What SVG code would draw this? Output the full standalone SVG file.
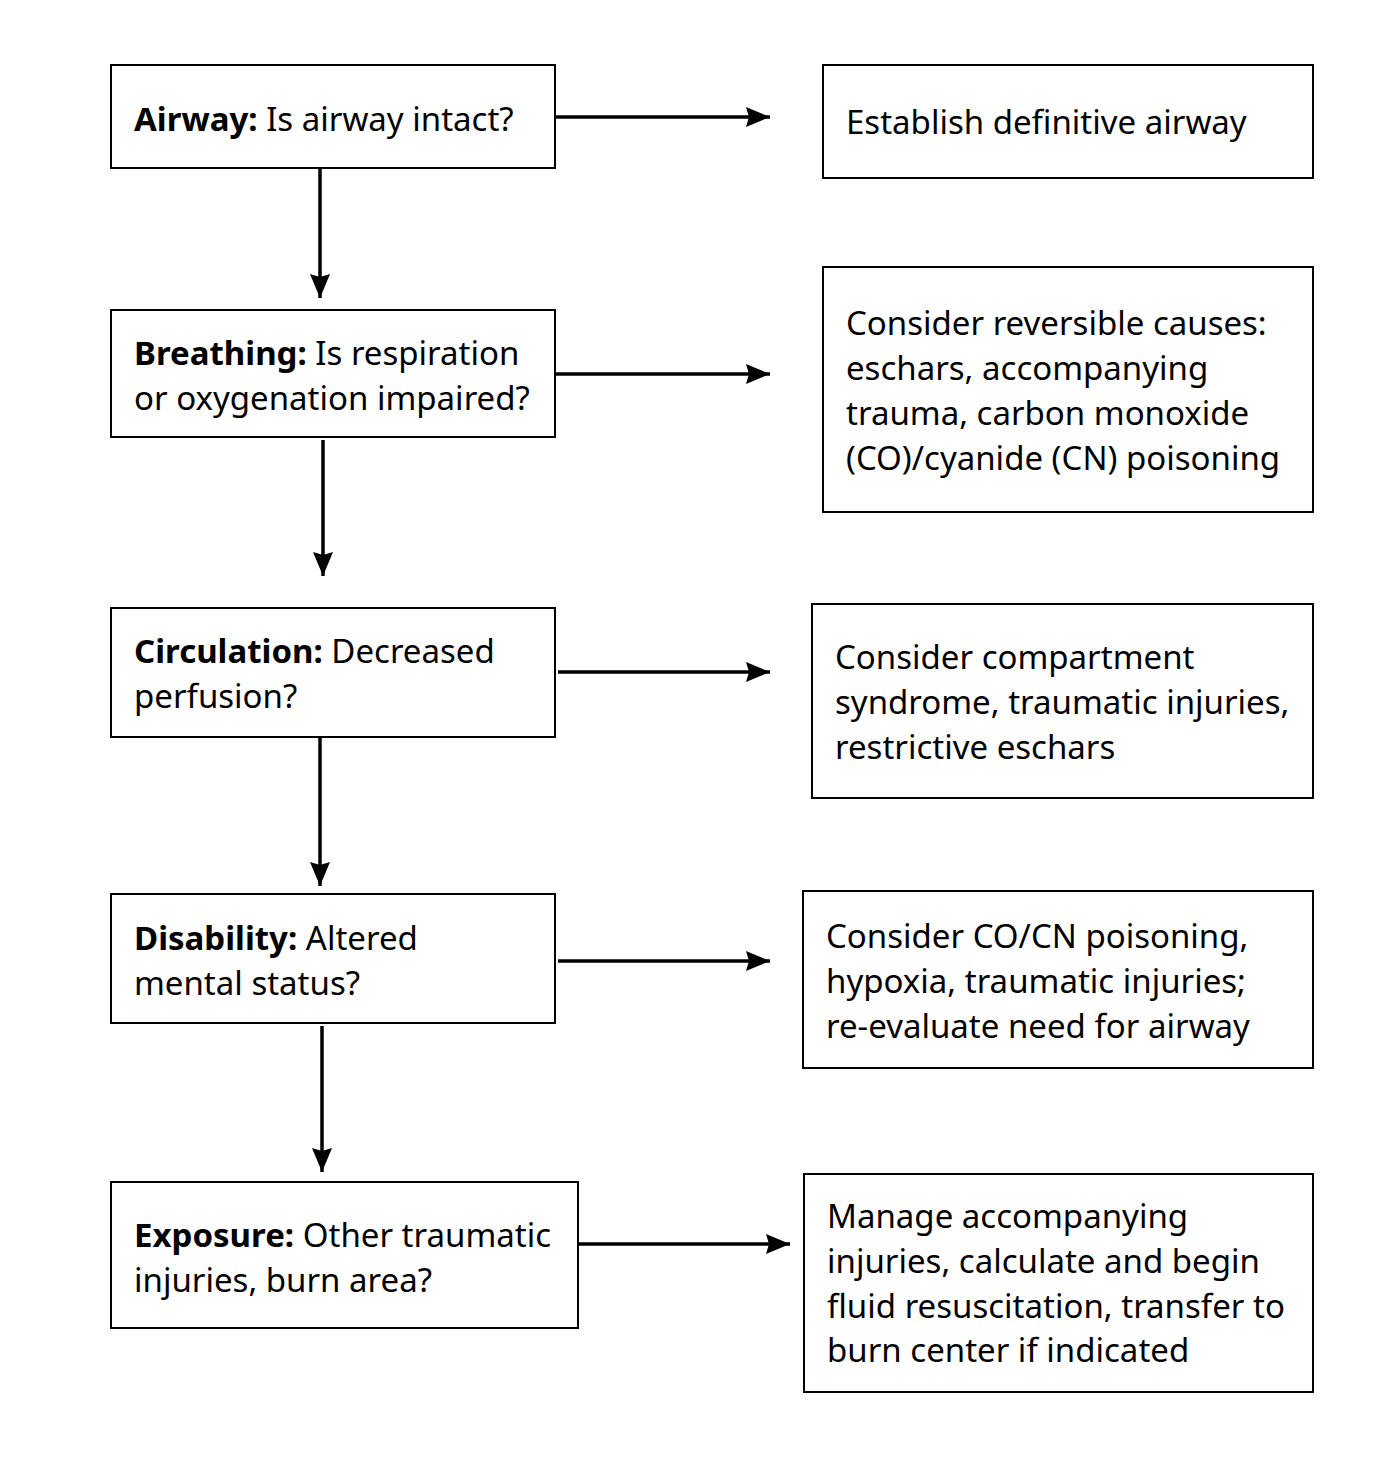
<svg xmlns="http://www.w3.org/2000/svg" width="1398" height="1476" viewBox="0 0 1398 1476">
<defs>
<style>
.box{fill:#fff;stroke:#000;stroke-width:2}
.t{font-family:"Noto Sans","Open Sans","Liberation Sans",sans-serif;font-size:33px;fill:#000}
.b{font-weight:bold}
.c{stroke:#000;stroke-width:3.5;fill:none;marker-end:url(#ah)}
</style>
<marker id="ah" markerUnits="userSpaceOnUse" markerWidth="24" markerHeight="22" refX="24" refY="11" orient="auto">
<path d="M0,1 L24,11 L0,21 L3,11 Z" fill="#000"/>
</marker>
</defs>
<rect width="1398" height="1476" fill="#fff"/>
<g id="connectors">
<line class="c" x1="555" y1="117" x2="770" y2="117"/>
<line class="c" x1="555" y1="374" x2="770" y2="374"/>
<line class="c" x1="558" y1="672" x2="770" y2="672"/>
<line class="c" x1="558" y1="961" x2="770" y2="961"/>
<line class="c" x1="579" y1="1244" x2="790" y2="1244"/>
<line class="c" x1="320" y1="168" x2="320" y2="298"/>
<line class="c" x1="323" y1="440" x2="323" y2="576"/>
<line class="c" x1="320" y1="737" x2="320" y2="886"/>
<line class="c" x1="322" y1="1026" x2="322" y2="1172"/>
</g>
<g id="airway">
<rect class="box" x="111" y="65" width="444" height="103"/>
<text class="t" x="134" y="131"><tspan class="b">Airway:</tspan> Is airway intact?</text>
</g>
<g id="breathing">
<rect class="box" x="111" y="310" width="444" height="127"/>
<text class="t" x="134" y="365"><tspan class="b">Breathing:</tspan> Is respiration</text>
<text class="t" x="134" y="410">or oxygenation impaired?</text>
</g>
<g id="circulation">
<rect class="box" x="111" y="608" width="444" height="129"/>
<text class="t" x="134" y="663"><tspan class="b">Circulation:</tspan> Decreased</text>
<text class="t" x="134" y="708">perfusion?</text>
</g>
<g id="disability">
<rect class="box" x="111" y="894" width="444" height="129"/>
<text class="t" x="134" y="950"><tspan class="b">Disability:</tspan> Altered</text>
<text class="t" x="134" y="995">mental status?</text>
</g>
<g id="exposure">
<rect class="box" x="111" y="1182" width="467" height="146"/>
<text class="t" x="134" y="1247"><tspan class="b">Exposure:</tspan> Other traumatic</text>
<text class="t" x="134" y="1292">injuries, burn area?</text>
</g>
<g id="r1">
<rect class="box" x="823" y="65" width="490" height="113"/>
<text class="t" x="846" y="134">Establish definitive airway</text>
</g>
<g id="r2">
<rect class="box" x="823" y="267" width="490" height="245"/>
<text class="t" x="846" y="335">Consider reversible causes:</text>
<text class="t" x="846" y="380">eschars, accompanying</text>
<text class="t" x="846" y="425">trauma, carbon monoxide</text>
<text class="t" x="846" y="470">(CO)/cyanide (CN) poisoning</text>
</g>
<g id="r3">
<rect class="box" x="812" y="604" width="501" height="194"/>
<text class="t" x="835" y="669">Consider compartment</text>
<text class="t" x="835" y="714">syndrome, traumatic injuries,</text>
<text class="t" x="835" y="759">restrictive eschars</text>
</g>
<g id="r4">
<rect class="box" x="803" y="891" width="510" height="177"/>
<text class="t" x="826" y="948">Consider CO/CN poisoning,</text>
<text class="t" x="826" y="993">hypoxia, traumatic injuries;</text>
<text class="t" x="826" y="1038">re-evaluate need for airway</text>
</g>
<g id="r5">
<rect class="box" x="804" y="1174" width="509" height="218"/>
<text class="t" x="827" y="1228">Manage accompanying</text>
<text class="t" x="827" y="1273">injuries, calculate and begin</text>
<text class="t" x="827" y="1318">fluid resuscitation, transfer to</text>
<text class="t" x="827" y="1362">burn center if indicated</text>
</g>
</svg>
